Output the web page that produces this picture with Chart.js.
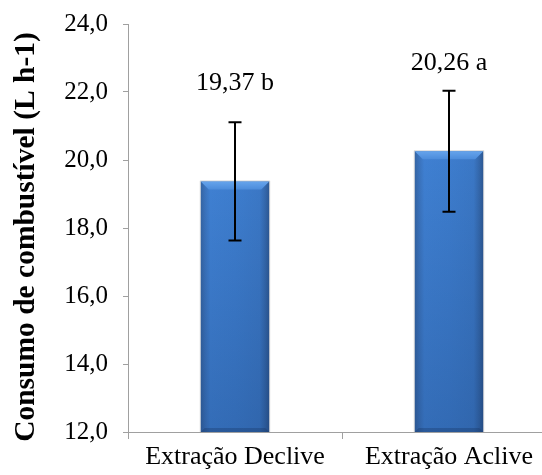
<!DOCTYPE html>
<html>
<head>
<meta charset="utf-8">
<script src="https://cdn.jsdelivr.net/npm/chart.js@4/dist/chart.umd.min.js"></script>
<style>
  html, body { margin: 0; padding: 0; background: #fff; overflow: hidden; }
  canvas { display: block; }
</style>
</head>
<body>
<canvas id="c" width="556" height="475"></canvas>
<script>
// Fuel consumption by extraction direction
const categories = ['Extração Declive', 'Extração Aclive'];
const meanValues = [19.37, 20.26];
const stdDev = [1.74, 1.78];
const letters = ['b', 'a'];
const yTicks = [12, 14, 16, 18, 20, 22, 24];
const yTitle = 'Consumo de combustível (L h-1)';

const fmt = v => v.toFixed(2).replace('.', ',');
const serif = '"Liberation Serif", "Times New Roman", serif';

// shaded bar face, darker toward the sides
function barFill(c) {
  const chart = c.chart;
  const xs = chart.scales.x;
  if (!xs) return '#3a76c4';
  const cx = xs.getPixelForValue(c.dataIndex);
  const w = xs.width / categories.length * 0.32;
  if (!isFinite(cx) || !isFinite(w) || w <= 0) return '#3a76c4';
  const g = chart.ctx.createLinearGradient(cx - w / 2, 0, cx + w / 2, 0);
  g.addColorStop(0, '#3565a4');
  g.addColorStop(0.06, '#3a72bb');
  g.addColorStop(0.14, '#3f80d2');
  g.addColorStop(0.5, '#3d7dce');
  g.addColorStop(0.86, '#3b78c6');
  g.addColorStop(0.94, '#3468ac');
  g.addColorStop(1, '#2d5893');
  return g;
}

const bevelPlugin = {
  id: 'bevel',
  afterDatasetsDraw(chart) {
    const ctx = chart.ctx;
    const meta = chart.getDatasetMeta(0);
    meta.data.forEach(bar => {
      const l = bar.x - bar.width / 2, r = bar.x + bar.width / 2, t = bar.y;
      const b = Math.min(bar.base, chart.chartArea.bottom);
      const d = 8;
      ctx.save();
      // darker toward the base
      const gv = ctx.createLinearGradient(0, t, 0, b);
      gv.addColorStop(0, 'rgba(0,20,60,0)');
      gv.addColorStop(1, 'rgba(0,20,60,0.18)');
      ctx.fillStyle = gv;
      ctx.fillRect(l, t, r - l, b - t);
      // top highlight
      const gt = ctx.createLinearGradient(0, t, 0, t + d);
      gt.addColorStop(0, '#66a4ec');
      gt.addColorStop(1, '#4c8cdb');
      ctx.fillStyle = gt;
      ctx.beginPath();
      ctx.moveTo(l, t); ctx.lineTo(r, t); ctx.lineTo(r - d, t + d); ctx.lineTo(l + d, t + d);
      ctx.closePath(); ctx.fill();
      // bottom shade
      ctx.fillStyle = 'rgba(20,45,90,0.3)';
      ctx.beginPath();
      ctx.moveTo(l, b); ctx.lineTo(r, b); ctx.lineTo(r - 4, b - 4); ctx.lineTo(l + 4, b - 4);
      ctx.closePath(); ctx.fill();
      // soft outline shadow
      ctx.strokeStyle = 'rgba(120,120,120,0.25)';
      ctx.lineWidth = 1;
      ctx.beginPath();
      ctx.moveTo(l - 0.5, b); ctx.lineTo(l - 0.5, t - 0.5); ctx.lineTo(r + 0.5, t - 0.5); ctx.lineTo(r + 0.5, b);
      ctx.stroke();
      ctx.restore();
    });
  }
};

const errorPlugin = {
  id: 'errorBars',
  afterDatasetsDraw(chart, args, opts) {
    const ctx = chart.ctx;
    const ys = chart.scales.y;
    const meta = chart.getDatasetMeta(0);
    meta.data.forEach((bar, i) => {
      const x = bar.x;
      const hi = ys.getPixelForValue(meanValues[i] + stdDev[i]);
      const lo = ys.getPixelForValue(meanValues[i] - stdDev[i]);
      ctx.save();
      ctx.strokeStyle = '#000';
      ctx.lineWidth = 2;
      ctx.beginPath();
      ctx.moveTo(x, hi); ctx.lineTo(x, lo);
      ctx.moveTo(x - 6.5, hi); ctx.lineTo(x + 6.5, hi);
      ctx.moveTo(x - 6.5, lo); ctx.lineTo(x + 6.5, lo);
      ctx.stroke();
      // value label with significance letter
      ctx.fillStyle = '#000';
      ctx.font = '26px ' + serif;
      ctx.textAlign = 'center';
      ctx.textBaseline = 'middle';
      ctx.fillText(fmt(meanValues[i]) + ' ' + letters[i], x, hi - opts.lift[i]);
      ctx.restore();
    });
  }
};

// rotated axis title beside the value axis
const axisTitlePlugin = {
  id: 'axisTitle',
  afterDraw(chart, args, opts) {
    const ctx = chart.ctx;
    const a = chart.chartArea;
    ctx.save();
    ctx.translate(opts.x, (a.top + a.bottom) / 2 + opts.shift);
    ctx.rotate(-Math.PI / 2);
    ctx.fillStyle = '#000';
    ctx.font = 'bold 29.5px ' + serif;
    ctx.textAlign = 'center';
    ctx.textBaseline = 'middle';
    ctx.fillText(yTitle, 0, 0);
    ctx.restore();
  }
};

new Chart(document.getElementById('c'), {
  type: 'bar',
  data: {
    labels: categories,
    datasets: [{
      data: meanValues,
      backgroundColor: barFill,
      borderWidth: 0,
      categoryPercentage: 1,
      barPercentage: 0.32
    }]
  },
  options: {
    responsive: false,
    animation: false,
    devicePixelRatio: 1,
    layout: { padding: { top: 24, left: 0, right: 0, bottom: 0 } },
    plugins: {
      legend: { display: false },
      tooltip: { enabled: false },
      errorBars: { lift: [39, 27] },
      axisTitle: { x: 26, shift: 9 }
    },
    scales: {
      x: {
        afterFit: s => { s.height = 43; s.paddingLeft = 0; s.paddingRight = 0; },
        grid: { display: true, drawOnChartArea: false, drawTicks: true, tickLength: 7, color: '#a0a0a0', offset: true },
        border: { color: '#a0a0a0', width: 1 },
        ticks: { color: '#000', font: { family: serif, size: 26 }, padding: 3, maxRotation: 0 }
      },
      y: {
        min: 12,
        max: 24,
        afterFit: s => { s.width = 128; s.paddingTop = 0; s.paddingBottom = 0; },
        afterBuildTicks: s => { s.ticks = yTicks.map(v => ({ value: v })); },
        grid: { display: true, drawOnChartArea: false, drawTicks: true, tickLength: 5, color: '#a0a0a0' },
        border: { color: '#a0a0a0', width: 1 },
        ticks: {
          color: '#000',
          font: { family: serif, size: 25 },
          padding: 15,
          callback: v => v.toFixed(1).replace('.', ',')
        }
      }
    }
  },
  plugins: [bevelPlugin, errorPlugin, axisTitlePlugin]
});
</script>
</body>
</html>
